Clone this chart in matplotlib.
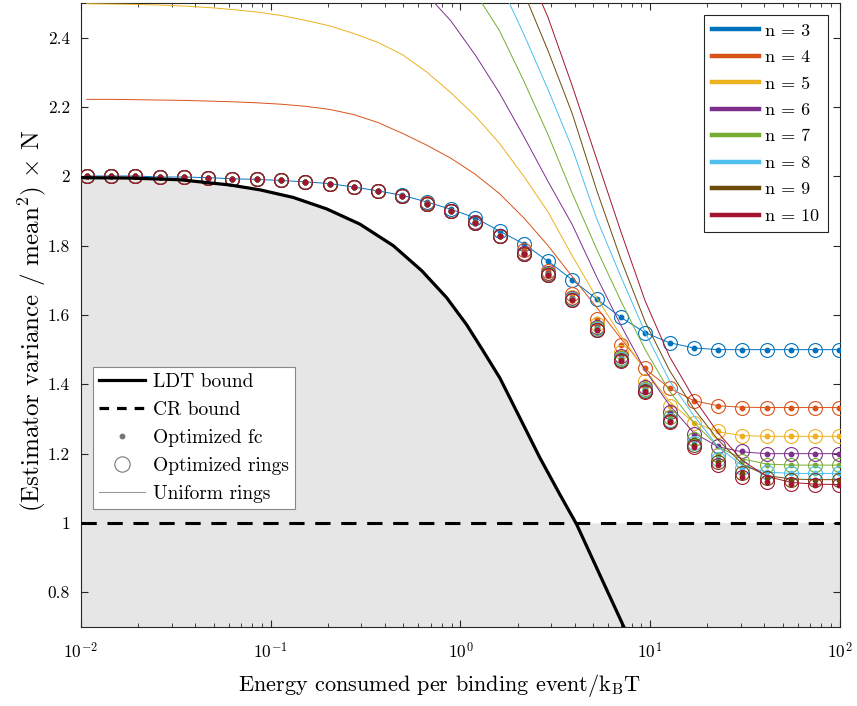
import numpy as np
import matplotlib
matplotlib.use("Agg")
import matplotlib.pyplot as plt
from matplotlib.lines import Line2D
from matplotlib.ticker import FuncFormatter, FixedLocator

plt.rcParams['font.family'] = 'cmr10'
plt.rcParams['mathtext.fontset'] = 'cm'
plt.rcParams['axes.formatter.use_mathtext'] = True

# energy grid (k_B T), log spaced
energy = [0.01072, 0.01439, 0.01932, 0.02594, 0.03483, 0.04677, 0.06281, 0.08433,
          0.1132, 0.1521, 0.2042, 0.2742, 0.3681, 0.4943, 0.6637, 0.8913,
          1.197, 1.607, 2.158, 2.897, 3.890, 5.224, 7.015, 9.419,
          12.65, 16.98, 22.80, 30.62, 41.11, 55.21, 74.13, 99.54]

# LDT bound
ldt_energy = [0.01, 0.01812, 0.03323, 0.06098, 0.08774, 0.1315, 0.1972, 0.2954,
              0.4425, 0.6245, 0.8458, 1.078, 1.319, 1.615, 2.059, 2.624,
              3.345, 4.098, 5.436, 7.272, 8.831]
ldt = [1.996, 1.995, 1.990, 1.975, 1.961, 1.939, 1.906, 1.862,
       1.800, 1.728, 1.650, 1.572, 1.496, 1.418, 1.303, 1.188,
       1.082, 0.996, 0.850, 0.700, 0.600]

labels = ['n = 3', 'n = 4', 'n = 5', 'n = 6', 'n = 7', 'n = 8', 'n = 9', 'n = 10']
colors = ['#0072BD', '#D95319', '#EDB120', '#7E2F8E', '#77AC30', '#4DBEEE', '#6B4A0A', '#A2142F']

# uniform rings (lines)
uni3 = [2.001, 2.001, 2.001, 1.998, 1.998, 1.996, 1.993, 1.991, 1.988, 1.984, 1.979, 1.969,
        1.958, 1.945, 1.926, 1.905, 1.880, 1.842, 1.805, 1.755, 1.701, 1.646, 1.593, 1.549,
        1.520, 1.505, 1.500, 1.500, 1.500, 1.500, 1.500, 1.500]
uni4 = [2.222, 2.222, 2.221, 2.220, 2.219, 2.217, 2.215, 2.212, 2.208, 2.202, 2.193, 2.178,
        2.155, 2.124, 2.090, 2.052, 2.006, 1.950, 1.880, 1.800, 1.710, 1.622, 1.532, 1.444,
        1.389, 1.353, 1.338, 1.334, 1.333, 1.333, 1.333, 1.333]
uni5 = [2.498, 2.497, 2.496, 2.494, 2.491, 2.487, 2.481, 2.474, 2.464, 2.450, 2.434, 2.412,
        2.386, 2.351, 2.301, 2.241, 2.174, 2.095, 2.000, 1.897, 1.770, 1.650, 1.540, 1.440,
        1.350, 1.290, 1.263, 1.252, 1.250, 1.250, 1.250, 1.250]
uni6 = [2.78, 2.78, 2.78, 2.77, 2.77, 2.76, 2.76, 2.75, 2.74, 2.73, 2.71, 2.68,
        2.64, 2.59, 2.525, 2.448, 2.350, 2.240, 2.115, 1.985, 1.860, 1.710, 1.570, 1.440,
        1.340, 1.260, 1.220, 1.205, 1.200, 1.200, 1.200, 1.200]
uni7 = [3.00, 3.00, 3.00, 2.99, 2.99, 2.98, 2.98, 2.97, 2.96, 2.94, 2.92, 2.89,
        2.85, 2.80, 2.74, 2.64, 2.53, 2.420, 2.275, 2.120, 1.950, 1.790, 1.640, 1.500,
        1.380, 1.290, 1.220, 1.185, 1.170, 1.167, 1.167, 1.167]
uni8 = [3.25, 3.25, 3.25, 3.24, 3.24, 3.23, 3.23, 3.22, 3.21, 3.19, 3.17, 3.14,
        3.10, 3.05, 2.98, 2.90, 2.70, 2.56, 2.410, 2.250, 2.080, 1.878, 1.710, 1.550,
        1.410, 1.310, 1.220, 1.165, 1.147, 1.143, 1.143, 1.143]
uni9 = [3.50, 3.50, 3.50, 3.49, 3.49, 3.48, 3.48, 3.47, 3.46, 3.44, 3.42, 3.39,
        3.35, 3.30, 3.22, 3.10, 2.94, 2.80, 2.53, 2.362, 2.180, 1.960, 1.760, 1.580,
        1.440, 1.330, 1.240, 1.170, 1.137, 1.127, 1.125, 1.125]
uni10 = [3.75, 3.75, 3.75, 3.74, 3.74, 3.73, 3.73, 3.72, 3.71, 3.69, 3.67, 3.64,
         3.60, 3.54, 3.45, 3.32, 3.10, 2.88, 2.62, 2.458, 2.260, 2.050, 1.840, 1.640,
         1.480, 1.360, 1.260, 1.180, 1.135, 1.117, 1.112, 1.111]

# optimized rings (circles) / optimized fc (dots)
opt3 = uni3
opt4 = [2.001, 2.001, 2.001, 1.998, 1.998, 1.996, 1.993, 1.991, 1.988, 1.984, 1.979, 1.969,
        1.958, 1.944, 1.922, 1.900, 1.868, 1.829, 1.786, 1.728, 1.661, 1.589, 1.512, 1.446,
        1.389, 1.353, 1.338, 1.333, 1.333, 1.333, 1.333, 1.333]
opt5 = [2.001, 2.001, 2.001, 1.998, 1.998, 1.996, 1.993, 1.991, 1.988, 1.984, 1.979, 1.969,
        1.958, 1.944, 1.921, 1.899, 1.867, 1.828, 1.780, 1.722, 1.652, 1.575, 1.492, 1.410,
        1.338, 1.288, 1.265, 1.252, 1.250, 1.250, 1.250, 1.250]
opt6 = [2.001, 2.001, 2.001, 1.998, 1.998, 1.996, 1.993, 1.991, 1.988, 1.984, 1.979, 1.969,
        1.958, 1.944, 1.921, 1.899, 1.867, 1.828, 1.778, 1.720, 1.648, 1.565, 1.482, 1.393,
        1.319, 1.256, 1.222, 1.208, 1.200, 1.200, 1.200, 1.200]
opt7 = [2.001, 2.001, 2.001, 1.998, 1.998, 1.996, 1.993, 1.991, 1.988, 1.984, 1.979, 1.969,
        1.958, 1.944, 1.921, 1.899, 1.866, 1.827, 1.777, 1.717, 1.646, 1.562, 1.476, 1.387,
        1.305, 1.242, 1.196, 1.180, 1.168, 1.167, 1.167, 1.167]
opt8 = [2.001, 2.001, 2.001, 1.998, 1.998, 1.996, 1.993, 1.991, 1.988, 1.984, 1.979, 1.969,
        1.958, 1.944, 1.921, 1.899, 1.866, 1.827, 1.777, 1.716, 1.645, 1.560, 1.472, 1.383,
        1.298, 1.232, 1.184, 1.160, 1.147, 1.143, 1.143, 1.143]
opt9 = [2.001, 2.001, 2.001, 1.998, 1.998, 1.996, 1.993, 1.991, 1.988, 1.984, 1.979, 1.969,
        1.958, 1.944, 1.921, 1.899, 1.866, 1.827, 1.777, 1.715, 1.643, 1.558, 1.470, 1.380,
        1.293, 1.225, 1.176, 1.145, 1.131, 1.125, 1.125, 1.125]
opt10 = [2.001, 2.001, 2.001, 1.998, 1.998, 1.996, 1.993, 1.991, 1.988, 1.984, 1.979, 1.969,
         1.958, 1.944, 1.920, 1.899, 1.866, 1.827, 1.777, 1.714, 1.642, 1.557, 1.468, 1.377,
         1.290, 1.218, 1.167, 1.134, 1.118, 1.112, 1.111, 1.111]

uniform = [uni3, uni4, uni5, uni6, uni7, uni8, uni9, uni10]
optimized = [opt3, opt4, opt5, opt6, opt7, opt8, opt9, opt10]

fig = plt.figure(figsize=(8.57, 7.06), dpi=100)
ax = fig.add_axes([0.0945, 0.1119, 0.8855, 0.8839])

ldt_arr = np.array(ldt)
ax.fill_between(ldt_energy, 0, np.maximum(ldt_arr, 1.0), color='#E6E6E6', lw=0, zorder=0)
ax.fill_between([8.831, 100], 0, 1.0, color='#E6E6E6', lw=0, zorder=0)
ax.plot(ldt_energy, ldt, color='k', lw=2.3, zorder=5)
ax.axhline(1.0, color='k', lw=2.2, dashes=(5, 3.5), zorder=5)

for c, u, o in zip(colors, uniform, optimized):
    ax.plot(energy, u, color=c, lw=0.7, zorder=3)
    ax.plot(energy, o, ls='none', marker='o', ms=10, mfc='none', mec=c, mew=0.8, zorder=3)
    ax.plot(energy, o, ls='none', marker='o', ms=3.2, color=c, zorder=3)

ax.set_xscale('log')
ax.set_xlim(1e-2, 1e2)
ax.set_ylim(0.7, 2.5)
ax.yaxis.set_major_locator(FixedLocator([0.8, 1.0, 1.2, 1.4, 1.6, 1.8, 2.0, 2.2, 2.4]))
ax.yaxis.set_major_formatter(FuncFormatter(lambda v, p: '%g' % v))
ax.tick_params(which='both', direction='in', top=True, right=True, labelsize=12.5,
               color='#262626')
ax.tick_params(axis='y', which='major', length=5, pad=8)
ax.tick_params(axis='x', which='major', length=5, pad=10)
ax.tick_params(which='minor', length=3)
for s in ax.spines.values():
    s.set_color('#262626')
    s.set_linewidth(0.8)

ax.set_xlabel(r'Energy consumed per binding event/$\mathrm{k_B}$T', fontsize=16, labelpad=8)
ax.set_ylabel(r'(Estimator variance / mean$^2$) $\times$ N', fontsize=18, labelpad=0)
ax.xaxis.label.set_x(0.473)
ax.yaxis.label.set_y(0.49)

n_handles = [Line2D([], [], color=c, lw=3.2) for c in colors]
leg1 = ax.legend(n_handles, labels, loc='upper right', bbox_to_anchor=(0.984, 0.981),
                 borderaxespad=0, fontsize=13, handlelength=2.6, labelspacing=0.6,
                 fancybox=False, framealpha=1, edgecolor='#262626', borderpad=0.45,
                 handletextpad=0.35)
leg1.get_frame().set_linewidth(0.8)
ax.add_artist(leg1)

gray = '#777777'
b_handles = [Line2D([], [], color='k', lw=2.3),
             Line2D([], [], color='k', lw=2.3, dashes=(3, 2.5)),
             Line2D([], [], ls='none', marker='o', ms=3.2, color=gray),
             Line2D([], [], ls='none', marker='o', ms=11, mfc='none', mec=gray, mew=0.8),
             Line2D([], [], color='#999999', lw=0.8)]
b_labels = ['LDT bound', 'CR bound', 'Optimized fc', 'Optimized rings', 'Uniform rings']
leg2 = ax.legend(b_handles, b_labels, loc='lower left', bbox_to_anchor=(0.0158, 0.189),
                 borderaxespad=0, fontsize=14, handlelength=2.4, labelspacing=0.52,
                 fancybox=False, framealpha=1, edgecolor='#888888', borderpad=0.3,
                 handletextpad=0.4)
leg2.get_frame().set_linewidth(0.8)

fig.savefig('out.png', dpi=100)
